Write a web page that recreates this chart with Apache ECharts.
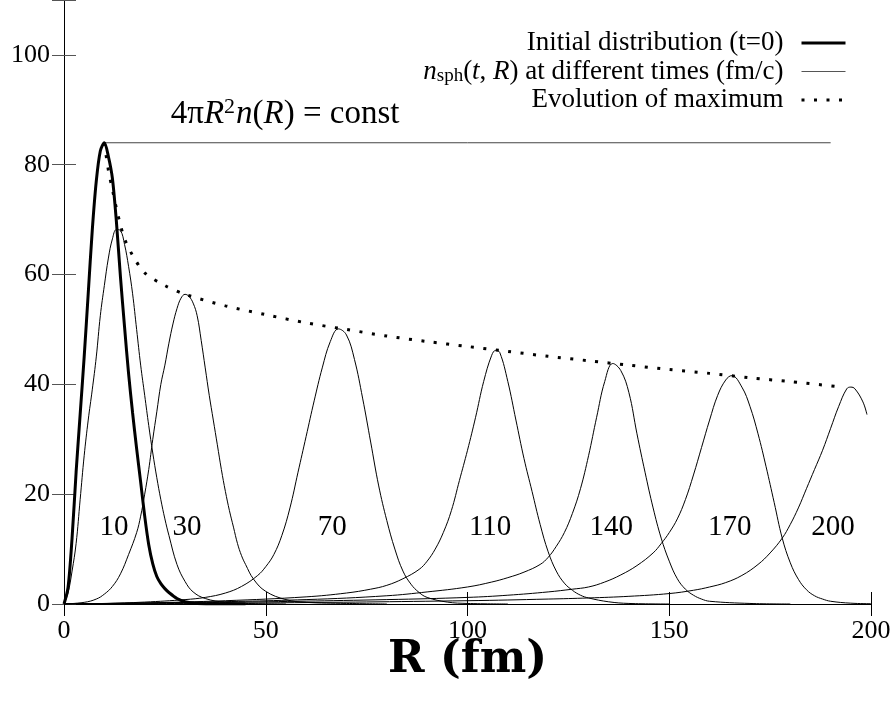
<!DOCTYPE html>
<html>
<head>
<meta charset="utf-8">
<script src="https://cdn.jsdelivr.net/npm/echarts@6/dist/echarts.min.js"></script>
<style>
  html, body { margin: 0; padding: 0; background: #fff; }
  #chart { width: 895px; height: 707px; }
</style>
</head>
<body>
<div id="chart"></div>
<script>
// values, [R (fm), value]
var initDist = [[0,0],[1,3],[2,12],[3,24],[4,34.5],[5,45],[6,56.5],[7,68],[8,77],[9,82.5],[10,84],[11,81.5],[12,77.5],[13,69.5],[14,59.5],[15,50.5],[16,42],[17,34.8],[18,28.3],[19,22.2],[20,16],[21,10.8],[22,7.3],[23,5],[24,3.7],[25,2.8],[26,2.1],[28,1],[30,0.4],[33,0.1],[38,0],[45,0]];
var t10 = [[0,0],[1,2],[2,6],[3,11],[4,19],[5,27],[6,33.5],[7,39],[8,45],[9,52.5],[10,58],[11,63],[12,66.5],[13,68.2],[14,68],[15,65.5],[16,61.5],[17,56.5],[18,50],[19,43.5],[20,38],[21,32.5],[22,27.5],[23,23],[24,19],[25,15.5],[26,12.5],[28,7.2],[30,4.1],[32,2.2],[35,1],[40,0.3],[45,0.1],[55,0]];
var t30 = [[0,0],[5,0.3],[8,0.9],[10,1.8],[12,3.2],[14,5.5],[16,9],[18,13],[19,16],[20,20],[21,24.5],[22,30],[23,35],[24,40],[25,43.5],[26,47.5],[27,51],[28,53.8],[29,55.7],[30,56.4],[31,56],[32,54.8],[33,52.5],[34,48],[35,43],[36,38],[37,33.5],[38,29],[39,24.5],[40,20.5],[41,17],[42,14],[43,11],[44,8.8],[45,7.2],[47,4.5],[50,2.3],[55,0.8],[60,0.3],[70,0.1],[80,0]];
var t70 = [[0,0],[10,0.1],[20,0.35],[30,0.8],[35,1.2],[40,2],[44,3.2],[48,5.2],[50,6.8],[52,9],[54,12.5],[56,17.5],[58,24],[60,30.5],[62,37],[64,43],[66,47.8],[68,50.1],[70,49],[72,44.5],[74,37.5],[76,29.5],[78,21.5],[80,15.2],[82,10],[84,6],[86,3.6],[88,2.1],[90,1.2],[95,0.35],[100,0.1],[110,0]];
var t110 = [[0,0],[20,0.2],[40,0.6],[60,1.3],[70,2],[76,2.7],[80,3.4],[84,4.6],[88,6.3],[90,7.8],[92,10],[94,13],[96,17],[98,22.5],[100,28],[102,34],[104,40.5],[106,45.3],[107,46.2],[108,45.8],[110,40.5],[112,33.5],[114,26.5],[116,20.5],[118,14.5],[120,9.5],[122,6],[124,3.8],[126,2.5],[128,1.6],[130,1.1],[135,0.4],[140,0.1],[150,0]];
var t140 = [[0,0],[30,0.3],[60,0.8],[80,1.5],[90,2.2],[100,3.1],[106,4],[110,4.8],[114,5.8],[118,7.2],[120,8.5],[122,10.5],[124,13],[126,16.5],[128,21],[130,27],[132,34],[134,40.5],[136,43.8],[138,42.5],[140,38.5],[142,31],[144,24],[146,17.5],[148,12],[150,7.8],[152,4.6],[154,2.7],[156,1.6],[158,0.9],[160,0.5],[170,0.1],[180,0]];
var t170 = [[0,0],[40,0.3],[80,0.8],[100,1.2],[110,1.6],[120,2.2],[126,2.7],[130,3.1],[134,4],[138,5.3],[142,7],[146,9.3],[148,11],[150,13],[152,15.5],[154,19],[156,23.5],[158,28.5],[160,33.5],[162,38],[164,40.8],[165.5,41.6],[168,39.5],[170,36],[172,31],[174,25],[176,18.5],[178,12],[180,7.5],[182,4.5],[184,2.6],[186,1.5],[188,0.9],[190,0.5],[195,0.15],[200,0.05]];
var t200 = [[0,0],[50,0.2],[100,0.6],[120,0.9],[130,1.1],[140,1.4],[150,1.9],[156,2.5],[160,3.1],[164,3.9],[168,5.2],[172,7.2],[175,9.3],[178,12],[180,14.5],[182,17.5],[184,21],[186,24.5],[188,28],[190,32],[192,36],[194,39.2],[195,39.5],[196,39.2],[198,36.8],[199,34.5]];
var maxEvo = [[10,84],[11,79],[12,75.5],[13,72],[14,69],[15,66.5],[17,63.5],[20,60.3],[25,58],[30,56.4],[40,54.3],[50,52.7],[60,51.2],[70,50],[80,48.8],[90,47.8],[100,46.9],[110,46],[120,45.1],[130,44.3],[140,43.5],[150,42.7],[160,42],[170,41.2],[180,40.5],[193,39.5]];
var constLine = [[10,84],[190,84]];

var timeCurves = [t10, t30, t70, t110, t140, t170, t200];
var timeLabels = ['10', '30', '70', '110', '140', '170', '200'];
var timeLabelR = [12.4, 30.5, 66.5, 105.6, 135.6, 165, 190.6];
var timeLabelY = 14;

var yTicks = [0, 20, 40, 60, 80, 100];

var serif = '"Liberation Serif", "DejaVu Serif", serif';
var chart = echarts.init(document.getElementById('chart'));

var series = [];
series.push({
  name: 'init', type: 'line', data: initDist, symbol: 'none', smooth: 0.3,
  itemStyle: { color: '#000' },
  lineStyle: { color: '#000', width: 3 }, z: 5
});
timeCurves.forEach(function (d) {
  series.push({
    name: 'nsph', type: 'line', data: d, symbol: 'none', smooth: 0.4,
    itemStyle: { color: '#000' },
    lineStyle: { color: '#000', width: 1 }
  });
});
series.push({
  name: 'max', type: 'line', data: maxEvo, symbol: 'none', smooth: 0.3,
  itemStyle: { color: '#000' },
  lineStyle: { color: '#000', width: 3, type: [3, 9.5], cap: 'butt' }
});
series.push({
  name: 'const', type: 'line', data: constLine, symbol: 'none',
  lineStyle: { color: '#444', width: 1 }
});
series.push({
  name: 'labels', type: 'scatter', symbolSize: 0, silent: true,
  itemStyle: { opacity: 1 },
  data: timeLabels.map(function (t, i) { return { value: [timeLabelR[i], timeLabelY], name: t }; }),
  label: {
    show: true, position: 'inside', formatter: '{b}',
    fontFamily: serif, fontSize: 29, color: '#000'
  }
});
series.push({
  name: 'constText', type: 'scatter', symbolSize: 0, silent: true,
  itemStyle: { opacity: 1 },
  data: [{ value: [54.8, 89.2] }],
  label: {
    show: true, position: 'inside',
    formatter: '4π{i|R}{sup|2}{i|n}({i|R}) = const',
    fontFamily: serif, fontSize: 33, color: '#000',
    rich: {
      i: { fontFamily: serif, fontStyle: 'italic', fontSize: 33, color: '#000' },
      sup: { fontFamily: serif, fontSize: 22, color: '#000', verticalAlign: 'top', padding: [0, 1, 14, 0] }
    }
  }
});

var legendText = {
  init: 'Initial distribution (t=0)',
  nsph: '{i|n}{sub|sph}({i|t}, {i|R}) at different times (fm/c)',
  max: 'Evolution of maximum'
};

chart.setOption({
  animation: false,
  backgroundColor: '#fff',
  grid: { left: 64, right: 24, top: 0, bottom: 103 },
  legend: {
    data: [
      { name: 'init', lineStyle: { color: '#000', width: 3 } },
      { name: 'nsph', lineStyle: { color: '#555', width: 1 } },
      { name: 'max', lineStyle: { color: '#000', width: 3, type: [3, 9.5], cap: 'butt' } }
    ],
    orient: 'vertical', align: 'right',
    right: 43, top: 24,
    icon: 'inherit',
    itemWidth: 44, itemHeight: 28, itemGap: 0,
    itemStyle: { opacity: 0 },
    selectedMode: false,
    formatter: function (n) { return legendText[n]; },
    textStyle: {
      fontFamily: serif, fontSize: 27, color: '#000', lineHeight: 28,
      padding: [0, 13, 0, 0],
      rich: {
        i: { fontFamily: serif, fontStyle: 'italic', fontSize: 27, lineHeight: 28 },
        sub: { fontFamily: serif, fontSize: 19, lineHeight: 28, padding: [10, 0, 0, 0] }
      }
    }
  },
  xAxis: [{
    type: 'value', min: 0, max: 200, interval: 50,
    name: 'R (fm)', nameLocation: 'middle', nameGap: 35, nameMoveOverlap: false,
    nameTextStyle: { fontFamily: '"DejaVu Serif", serif', fontWeight: 'bold', fontSize: 44, color: '#000' },
    axisLine: { show: true, lineStyle: { color: '#000', width: 1 } },
    axisTick: { inside: true, length: 12, lineStyle: { color: '#000' } },
    axisLabel: { fontFamily: serif, fontSize: 26, color: '#000', margin: 14 },
    splitLine: { show: false }
  }, {
    type: 'value', min: 0, max: 200, interval: 50, position: 'top',
    axisLine: { show: true, lineStyle: { color: '#000', width: 1 } },
    axisTick: { inside: true, length: 12, lineStyle: { color: '#000' } },
    axisLabel: { show: false }, splitLine: { show: false }
  }],
  yAxis: [{
    type: 'value', min: 0, max: 110, interval: 20,
    axisLine: { show: true, lineStyle: { color: '#000', width: 1 } },
    axisTick: { inside: true, length: 12, lineStyle: { color: '#555' } },
    axisLabel: {
      fontFamily: serif, fontSize: 26, color: '#000', margin: 14,
      formatter: function (v) { return yTicks.indexOf(v) >= 0 ? String(v) : ''; }
    },
    splitLine: { show: false }
  }, {
    type: 'value', min: 0, max: 110, interval: 20, position: 'right',
    axisLine: { show: true, lineStyle: { color: '#000', width: 1 } },
    axisTick: { inside: true, length: 12, lineStyle: { color: '#555' } },
    axisLabel: { show: false }, splitLine: { show: false }
  }],
  series: series
});
</script>
</body>
</html>
